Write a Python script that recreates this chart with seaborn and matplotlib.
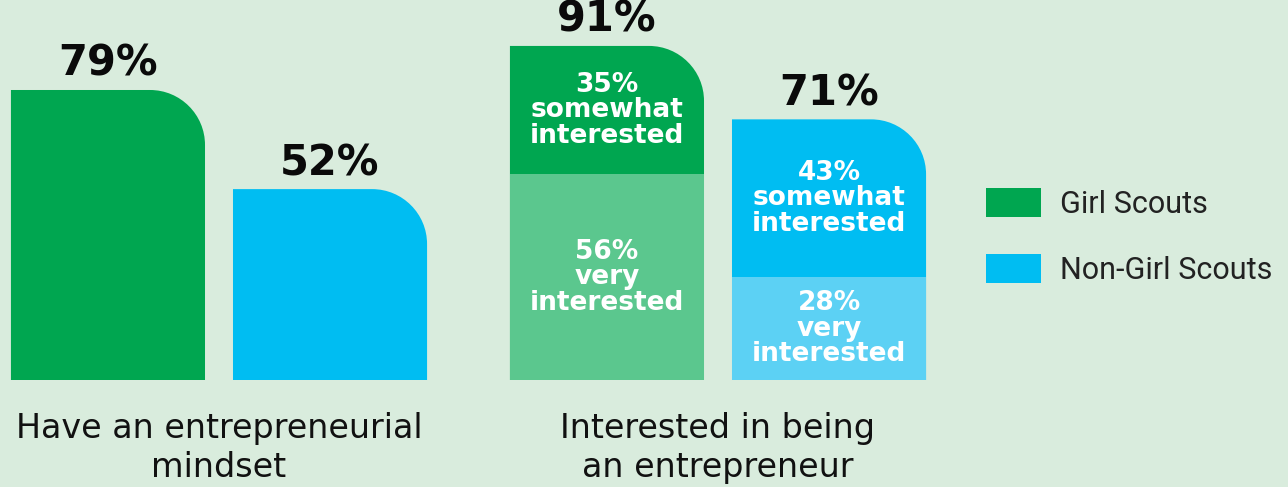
import numpy as np
import pandas as pd
import matplotlib
matplotlib.use('Agg')
import matplotlib.pyplot as plt
from matplotlib.path import Path
from matplotlib.patches import PathPatch
import seaborn as sns

# ── data ──
groups = ['Have an entrepreneurial\nmindset', 'Interested in being\nan entrepreneur']
series = ['Girl Scouts', 'Non-Girl Scouts']
totals = [[79, 52], [91, 71]]
somewhat = [35, 43]      # group 2 only
very = [56, 28]          # group 2 only

dark = ['#00a650', '#00bdf2']
light = ['#5bc78e', '#5cd1f4']
bg = '#d9ecdd'

rows = []
for g, vals in zip(groups, totals):
    for s, v in zip(series, vals):
        rows.append({'group': g, 'series': s, 'value': v})
df = pd.DataFrame(rows)
df_very = pd.DataFrame({'group': groups[1], 'series': series, 'value': very})

W, H = 12.88, 4.87
px_per = 3.671          # px per percentage point
base_px = 107           # baseline from bottom
fig = plt.figure(figsize=(W, H), dpi=100, facecolor=bg)
ax = fig.add_axes([0, base_px / 487, 1, 380 / 487])
ax.set_facecolor(bg)

sns.barplot(data=df, x='group', y='value', hue='series', order=groups,
            hue_order=series, palette=dark, width=0.89, gap=0.126,
            saturation=1, ax=ax, legend=True)

# swap plain bars for ones with a rounded top-right corner
grp_w = 499.0
rx = 55 / grp_w
ry = 55 / px_per
k = 0.5523
bars = list(ax.patches)
bar_info = []
for p in bars:
    x0 = p.get_x(); x1 = x0 + p.get_width(); h = p.get_height()
    if h <= 0 or np.isnan(h):
        continue
    verts = [(x0, 0), (x1, 0), (x1, h - ry),
             (x1, h - ry + k * ry), (x1 - rx + k * rx, h), (x1 - rx, h),
             (x0, h), (x0, 0)]
    codes = [Path.MOVETO, Path.LINETO, Path.LINETO,
             Path.CURVE4, Path.CURVE4, Path.CURVE4,
             Path.LINETO, Path.CLOSEPOLY]
    ax.add_patch(PathPatch(Path(verts, codes), facecolor=p.get_facecolor(),
                           edgecolor='none', zorder=1))
    bar_info.append((x0 + p.get_width() / 2, h))
    p.remove()

handles, labels = ax.get_legend_handles_labels()
if ax.get_legend():
    ax.get_legend().remove()

n_before = len(ax.patches)
sns.barplot(data=df_very, x='group', y='value', hue='series', order=groups,
            hue_order=series, palette=light, width=0.89, gap=0.126,
            saturation=1, ax=ax, legend=False)
for p in ax.patches[n_before:]:
    p.set_zorder(2)
    p.set_edgecolor('none')

ax.set_xlim(-219 / grp_w, (1288 - 219) / grp_w)
ax.set_ylim(0, 380 / px_per)
for s in ax.spines.values():
    s.set_visible(False)
ax.set_yticks([])
ax.set_xlabel(''); ax.set_ylabel('')
ax.tick_params(axis='x', length=0, pad=23)
ax.set_xticks(range(len(groups)))
ax.set_xticklabels(groups, fontsize=24, family='DejaVu Sans',
                   color='#111111', linespacing=1.25)

# totals above the bars
bar_info.sort()
for (cx, h) in bar_info:
    ax.text(cx, h + 5 / px_per, f'{int(round(h))}%', ha='center', va='bottom',
            fontsize=30, fontweight='bold', family='DejaVu Sans', color='#0a0a0a', zorder=3)

# inner labels for the stacked group
for i, (cx, h) in enumerate(bar_info[2:]):
    v, s = very[i], somewhat[i]
    ax.text(cx, v + s / 2, f'{s}%\nsomewhat\ninterested', ha='center', va='center',
            fontsize=19, fontweight='bold', family='DejaVu Sans', color='white',
            linespacing=0.97, zorder=3)
    ax.text(cx, v / 2, f'{v}%\nvery\ninterested', ha='center', va='center',
            fontsize=19, fontweight='bold', family='DejaVu Sans', color='white',
            linespacing=0.97, zorder=3)

fs = 22
fpx = fs * 100 / 72
leg = fig.legend(handles, labels, loc='upper left',
                 bbox_to_anchor=(986 / 1288, 1 - 188 / 487), frameon=False,
                 handlelength=55 / fpx, handleheight=28 / (fpx * 0.857),
                 handletextpad=0.62, labelspacing=1.15, borderpad=0,
                 borderaxespad=0, prop={'family': 'Roboto', 'size': fs})
for t in leg.get_texts():
    t.set_color('#222222')

fig.savefig('out.png', dpi=100, facecolor=bg)
